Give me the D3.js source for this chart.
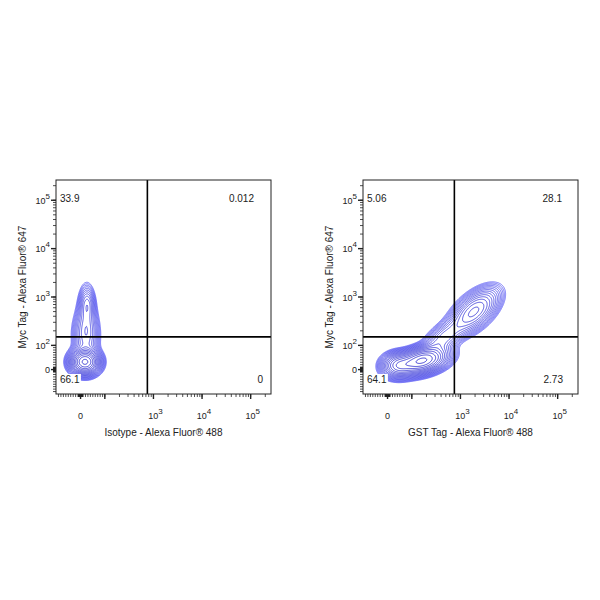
<!DOCTYPE html>
<html>
<head>
<meta charset="utf-8">
<title>Myc / GST contour plots</title>
<script src="https://d3js.org/d3.v7.min.js"></script>
<style>
body{margin:0;background:#fff;}
text{font-family:"Liberation Sans",Arial,sans-serif;fill:#222;}
</style>
</head>
<body>
<svg id="chart" width="600" height="600"></svg>
<script>
// ---- data ----
let axisMin = -100, axisMax = 262144;
let yTickVals = [0, 100, 1000, 10000, 100000];
let yTickExp = ['', '2', '3', '4', '5'];
let xTickVals = [0, 1000, 10000, 100000];
let xTickExp = ['', '3', '4', '5'];
let gateX = 750, gateY = 150;

let xTitles = ['Isotype - Alexa Fluor® 488', 'GST Tag - Alexa Fluor® 488'];
let yTitle = 'Myc Tag - Alexa Fluor® 647';
// quadrant percentages: upper-left, upper-right, lower-left, lower-right
let isoQuad = ['33.9', '0.012', '66.1', '0'];
let gstQuad = ['5.06', '28.1', '64.1', '2.73'];

// populations: centre in data units, spread in decades, tilt in degrees, weight
let isoPops = [
    {x: 18, y: 31, sx: 0.15, sy: 0.13, tilt: 0, w: 1},
    {x: 22, y: 160, sx: 0.14, sy: 0.30, tilt: 0, w: 0.15},
    {x: 25, y: 520, sx: 0.10, sy: 0.30, tilt: 0, w: 0.08},
    {x: 27, y: 720, sx: 0.075, sy: 0.17, tilt: 0, w: 0.08}
];
let gstPops = [
    {x: 160, y: 36, sx: 0.27, sy: 0.13, tilt: 14, w: 1},
    {x: 42, y: 18, sx: 0.17, sy: 0.13, tilt: 5, w: 0.45},
    {x: 450, y: 142, sx: 0.29, sy: 0.13, tilt: 40, w: 0.2},
    {x: 1900, y: 500, sx: 0.31, sy: 0.16, tilt: 42, w: 0.38}
];

// ---- scales (biexponential style: linear near zero, log above) ----
const T = 86, LT = Math.log10(T);
function lg(v){ return v >= T ? Math.log10(v) : LT + (v - T) / (T * Math.LN10); }

let W = 215, H = 214;
let panelLeft = [56, 363], panelTop = 180;
let pops = [isoPops, gstPops];
let quads = [isoQuad, gstQuad];
let quadRight = [[W - 17, W - 8], [W - 16, W - 15]];

let xLin = d3.scaleLinear().domain([lg(axisMin), lg(axisMax)]).range([0, W]);
let yLin = d3.scaleLinear().domain([lg(axisMin), lg(axisMax)]).range([H, 0]);
let x = v => xLin(lg(v));
let y = v => yLin(lg(v));
let pxDecX = W / (lg(axisMax) - lg(axisMin));
let pxDecY = H / (lg(axisMax) - lg(axisMin));

// minor ticks at 1..9 x 10^k, both signs
let minorTicks = [];
for (let k = 0; k <= 5; k++) {
    for (let m = 1; m <= 9; m++) {
        let v = m * Math.pow(10, k);
        if (v < axisMax) minorTicks.push(v);
        if (-v > axisMin) minorTicks.push(-v);
    }
}
let majorTicks = [0, 100, 1000, 10000, 100000];

let svg = d3.select('#chart');
let color = d3.scaleLinear().domain([0, 1]).range(['#5050f4', '#0c0cc4']);

panelLeft.forEach((left, p) => {
    let g = svg.append('g').attr('transform', `translate(${left},${panelTop})`);

    // density grid in pixel space
    let comps = pops[p].map(c => ({
        cx: x(c.x), cy: y(c.y),
        su: c.sx * pxDecX, sv: c.sy * pxDecY,
        a: c.tilt * Math.PI / 180, w: c.w
    }));
    let vals = new Float64Array(W * H);
    let maxV = 0;
    for (let j = 0; j < H; j++) {
        for (let i = 0; i < W; i++) {
            let s = 0;
            comps.forEach(c => {
                let dx = i + 0.5 - c.cx, dy = c.cy - (j + 0.5);
                let u = dx * Math.cos(c.a) + dy * Math.sin(c.a);
                let v = -dx * Math.sin(c.a) + dy * Math.cos(c.a);
                s += c.w * Math.exp(-0.5 * (u * u / (c.su * c.su) + v * v / (c.sv * c.sv)));
            });
            vals[j * W + i] = s;
            if (s > maxV) maxV = s;
        }
    }
    let nLev = 18, lo = 0.014, hi = 0.93;
    let levels = d3.range(nLev).map(k => maxV * lo * Math.pow(hi / lo, k / (nLev - 1)));
    let contours = d3.contours().size([W, H]).thresholds(levels)(vals);

    g.append('g').selectAll('path')
        .data(contours)
        .join('path')
        .attr('d', d3.geoPath())
        .attr('fill', 'none')
        .attr('stroke', (d, k) => color(k / (nLev - 1)))
        .attr('stroke-width', 0.8)
        .attr('stroke-opacity', 0.95);

    // gates
    g.append('line').attr('x1', x(gateX)).attr('x2', x(gateX)).attr('y1', 0).attr('y2', H)
        .attr('stroke', '#000').attr('stroke-width', 1.6);
    g.append('line').attr('x1', 0).attr('x2', W).attr('y1', y(gateY)).attr('y2', y(gateY))
        .attr('stroke', '#000').attr('stroke-width', 1.6);

    // frame
    g.append('rect').attr('width', W).attr('height', H)
        .attr('fill', 'none').attr('stroke', '#222').attr('stroke-width', 1);

    // y ticks
    g.append('g').selectAll('line').data(minorTicks).join('line')
        .attr('x1', -3).attr('x2', 0).attr('y1', d => y(d)).attr('y2', d => y(d))
        .attr('stroke', '#222').attr('stroke-width', 0.8);
    g.append('g').selectAll('line').data(majorTicks).join('line')
        .attr('x1', -5).attr('x2', 0).attr('y1', d => y(d)).attr('y2', d => y(d))
        .attr('stroke', '#222').attr('stroke-width', 1.4);
    // x ticks
    g.append('g').selectAll('line').data(minorTicks).join('line')
        .attr('y1', H).attr('y2', H + 3).attr('x1', d => x(d)).attr('x2', d => x(d))
        .attr('stroke', '#222').attr('stroke-width', 0.8);
    g.append('g').selectAll('line').data(majorTicks).join('line')
        .attr('y1', H).attr('y2', H + 5).attr('x1', d => x(d)).attr('x2', d => x(d))
        .attr('stroke', '#222').attr('stroke-width', 1.4);

    // y tick labels
    yTickVals.forEach((v, k) => {
        let t = g.append('text').attr('x', -6).attr('y', y(v) + 3.5)
            .attr('text-anchor', 'end').attr('font-size', 9);
        if (yTickExp[k] === '') { t.text('0'); return; }
        t.append('tspan').text('10');
        t.append('tspan').attr('dy', -5).attr('font-size', 8).text(yTickExp[k]);
    });
    // x tick labels
    xTickVals.forEach((v, k) => {
        let t = g.append('text').attr('x', x(v) + (xTickExp[k] === '' ? 0 : 2)).attr('y', H + 25)
            .attr('text-anchor', 'middle').attr('font-size', 9);
        if (xTickExp[k] === '') { t.text('0'); return; }
        t.append('tspan').text('10');
        t.append('tspan').attr('dy', -5).attr('font-size', 8).text(xTickExp[k]);
    });

    // axis titles
    g.append('text').attr('x', W / 2).attr('y', H + 42).attr('text-anchor', 'middle')
        .attr('font-size', 10).text(xTitles[p]);
    g.append('text').attr('transform', `translate(-30,${H / 2}) rotate(-90)`)
        .attr('text-anchor', 'middle').attr('font-size', 10).text(yTitle);

    // quadrant labels
    let q = quads[p];
    let qPos = [
        {x: 4, y: 22, anchor: 'start'},
        {x: quadRight[p][0], y: 22, anchor: 'end'},
        {x: 4, y: 203, anchor: 'start'},
        {x: quadRight[p][1], y: 203, anchor: 'end'}
    ];
    q.forEach((lab, k) => {
        let t = g.append('text').attr('x', qPos[k].x).attr('y', qPos[k].y)
            .attr('text-anchor', qPos[k].anchor).attr('font-size', 10).text(lab);
        let bb = t.node().getBBox();
        g.insert('rect', () => t.node())
            .attr('x', bb.x - 1).attr('y', bb.y).attr('width', bb.width + 2).attr('height', bb.height)
            .attr('fill', '#fff');
    });
});
</script>
</body>
</html>
